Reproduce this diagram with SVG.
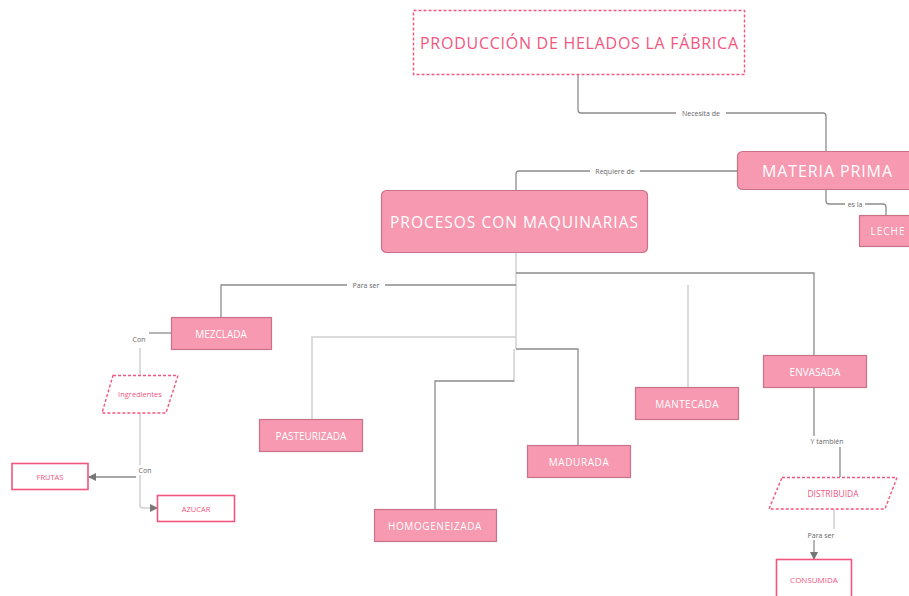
<svg xmlns="http://www.w3.org/2000/svg" width="909" height="596" viewBox="0 0 909 596">
<style>
.bg{fill:#ffffff}
.fill{fill:#f799b0;stroke:#c9738a;stroke-width:1.2}
.wt{fill:#ffffff;font-family:"Open Sans","DejaVu Sans",sans-serif;text-anchor:middle;dominant-baseline:central}
.out{fill:#ffffff;stroke:#f2567f;stroke-width:1.6}
.dash{fill:#ffffff;stroke:#f2567f;stroke-width:1.4;stroke-dasharray:3 2}
.pt{fill:#f2567f;font-family:"Open Sans","DejaVu Sans",sans-serif;text-anchor:middle;dominant-baseline:central}
.ln{fill:none;stroke:#8c8c8c;stroke-width:1.3}
.lt{fill:none;stroke:#cfcfcf;stroke-width:1.5}
.lbl{fill:#666666;font-family:"Open Sans","DejaVu Sans",sans-serif;font-size:7px;text-anchor:middle;dominant-baseline:central}
.lb{fill:#ffffff}
</style>
<defs>
<marker id="ah" markerWidth="8" markerHeight="8" refX="7" refY="4" orient="auto" markerUnits="userSpaceOnUse">
<path d="M0,0 L8,4 L0,8 Z" fill="#777777"/>
</marker>
</defs>
<rect class="bg" x="0" y="0" width="909" height="596"/>
<g id="connectors">
<path class="ln" d="M578 75 V110 Q578 113 581 113 H823 Q826 113 826 116 V151"/>
<path class="ln" d="M737 171 H519 Q516 171 516 174 V190"/>
<path class="ln" d="M826 189 V201 Q826 204 829 204 H883 Q886 204 886 207 V215"/>
<path class="lt" d="M516 253 V349"/>
<path class="lt" d="M514 349 V382"/>
<path class="ln" d="M516 285 H221 V317"/>
<path class="ln" d="M516 273 H814 V355"/>
<path class="lt" d="M516 337 H312 V419"/>
<path class="ln" d="M516 349 H578 V445"/>
<path class="ln" d="M514 381 H435 V509"/>
<path class="lt" d="M688 285 V387"/>
<path class="ln" d="M171 333 H149"/>
<path class="lt" d="M140 348 V376"/>
<path class="lt" d="M140 413 V505 Q140 508 143 508 H157" marker-end="url(#ah)"/>
<path class="ln" d="M136 477 H89" marker-end="url(#ah)"/>
<path class="ln" d="M814 388 V441 H840 V477"/>
<path class="lt" d="M834 509 V535 H814"/>
<path class="ln" d="M814 535 V559" marker-end="url(#ah)"/>
<rect class="lb" x="676" y="108" width="50" height="10"/>
<text class="lbl" x="701" y="113">Necesita de</text>
<rect class="lb" x="590" y="166" width="50" height="10"/>
<text class="lbl" x="615" y="171">Requiere de</text>
<rect class="lb" x="845" y="199" width="20" height="10"/>
<text class="lbl" x="855" y="204">es la</text>
<rect class="lb" x="347" y="280" width="38" height="10"/>
<text class="lbl" x="366" y="285">Para ser</text>
<text class="lbl" x="139" y="339">Con</text>
<rect class="lb" x="136" y="465" width="18" height="10"/>
<text class="lbl" x="145" y="470">Con</text>
<rect class="lb" x="805" y="436" width="44" height="11"/>
<text class="lbl" x="827" y="441">Y también</text>
<rect class="lb" x="804" y="529" width="34" height="11"/>
<text class="lbl" x="821" y="535">Para ser</text>
</g>
<g id="titulo">
<rect class="dash" x="413.5" y="10.5" width="331" height="64"/>
<text class="pt" x="579" y="43" font-size="16" textLength="318">PRODUCCIÓN DE HELADOS LA FÁBRICA</text>
</g>
<g id="materia-prima">
<rect class="fill" x="737.5" y="151.5" width="190" height="38" rx="5"/>
<text class="wt" x="827" y="171" font-size="16" textLength="130">MATERIA PRIMA</text>
</g>
<g id="leche">
<rect class="fill" x="859.5" y="215.5" width="60" height="31"/>
<text class="wt" x="888" y="231" font-size="10" letter-spacing="1">LECHE</text>
</g>
<g id="procesos">
<rect class="fill" x="381.5" y="190.5" width="266" height="62" rx="5"/>
<text class="wt" x="514" y="222" font-size="15.5" textLength="248">PROCESOS CON MAQUINARIAS</text>
</g>
<g id="mezclada">
<rect class="fill" x="171.5" y="317.5" width="100" height="32"/>
<text class="wt" x="221" y="334" font-size="10">MEZCLADA</text>
</g>
<g id="pasteurizada">
<rect class="fill" x="259.5" y="419.5" width="103" height="32"/>
<text class="wt" x="311" y="436" font-size="10">PASTEURIZADA</text>
</g>
<g id="homogeneizada">
<rect class="fill" x="374.5" y="509.5" width="122" height="32"/>
<text class="wt" x="435" y="526" font-size="10" letter-spacing="0.6">HOMOGENEIZADA</text>
</g>
<g id="madurada">
<rect class="fill" x="527.5" y="445.5" width="103" height="32"/>
<text class="wt" x="579" y="462" font-size="10" letter-spacing="0.6">MADURADA</text>
</g>
<g id="mantecada">
<rect class="fill" x="635.5" y="387.5" width="103" height="32"/>
<text class="wt" x="687" y="404" font-size="10" letter-spacing="0.4">MANTECADA</text>
</g>
<g id="envasada">
<rect class="fill" x="763.5" y="355.5" width="103" height="32"/>
<text class="wt" x="815" y="372" font-size="10">ENVASADA</text>
</g>
<g id="ingredientes">
<polygon class="dash" points="113,375.5 178,375.5 166,413 102,413"/>
<text class="pt" x="140" y="394" font-size="7.5">Ingredientes</text>
</g>
<g id="frutas">
<rect class="out" x="12" y="463.5" width="76" height="26"/>
<text class="pt" x="50" y="477" font-size="7.5">FRUTAS</text>
</g>
<g id="azucar">
<rect class="out" x="157.5" y="495.5" width="77" height="26"/>
<text class="pt" x="196" y="509" font-size="7.5">AZUCAR</text>
</g>
<g id="distribuida">
<polygon class="dash" points="782,477.5 897,477.5 885,509 769,509"/>
<text class="pt" x="833" y="493" font-size="8.5">DISTRIBUIDA</text>
</g>
<g id="consumida">
<rect class="out" x="776.5" y="559.5" width="75" height="44"/>
<text class="pt" x="814" y="579" font-size="8">CONSUMIDA</text>
</g>
</svg>
